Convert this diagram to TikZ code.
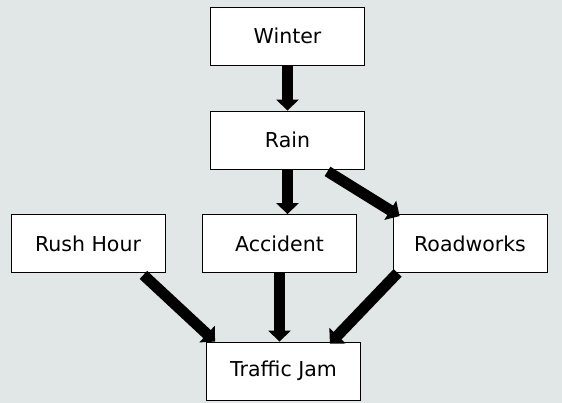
\documentclass[tikz,border=0pt]{standalone}
\usepackage{fontspec}
\setmainfont{DejaVu Sans}
\usetikzlibrary{arrows.meta,calc}
\definecolor{bggrey}{RGB}{225,230,230}
\tikzset{
  cause/.style={draw=black, line width=0.8pt, fill=white, inner sep=0pt,
    minimum width=154pt, minimum height=58pt, font=\fontsize{20.5}{24}\selectfont},
  link/.style={line width=11pt, arrows=-{Triangle[width=22pt,length=11pt]}}
}
\begin{document}
\begin{tikzpicture}[x=1pt, y=-1pt]
    \fill[bggrey] (0,0) rectangle (562,403);
    \useasboundingbox (0,0) rectangle (562,403);

    \node[cause] (winter) at (287.5,36) {Winter};
    \node[cause] (rain) at (287.5,140) {Rain};
    \node[cause] (rushhour) at (88,243.5) {Rush Hour};
    \node[cause] (accident) at (279.5,243.5) {Accident};
    \node[cause] (roadworks) at (470,243.5) {Roadworks};
    \node[cause] (trafficjam) at (283.5,371) {Traffic Jam};

    \draw[link] (winter.south) -- (rain.north);
    \draw[link] (rain.south) -- (rain.south |- accident.north);
    \draw[link] ($(rain.south)+(40,2)$) -- ($(roadworks.north west)+(7,2)$);
    \draw[link] ($(rushhour.south east)+(-22,2)$) -- ($(trafficjam.north west)+(9,0)$);
    \draw[link] (accident.south) -- (accident.south |- trafficjam.north);
    \draw[link] ($(roadworks.south west)+(5,0)$) -- ($(trafficjam.north east)+(-31,2)$);

\end{tikzpicture}
\end{document}
